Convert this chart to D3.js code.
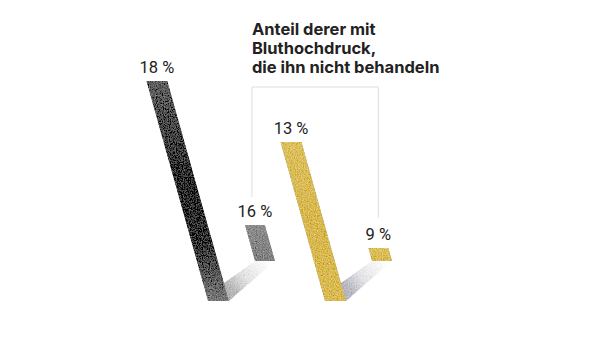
<!DOCTYPE html>
<html><head><meta charset="utf-8">
<script src="https://cdn.jsdelivr.net/npm/d3@7"></script>
<style>html,body{margin:0;padding:0;background:#fff;}svg{display:block;}</style>
</head><body>
<script>
// ---- data ----
const groups = ["ohne", "mit"];
const frontValues = [18, 13];
const backValues = [16, 9];
const titleLines = ["Anteil derer mit", "Bluthochdruck,", "die ihn nicht behandeln"];
const fmt = v => v + " %";

const W = 609, H = 347;
const svg = d3.select("body").append("svg").attr("width", W).attr("height", H);
const defs = svg.append("defs");

// grain filter
const f = defs.append("filter").attr("id", "grain").attr("x", 0).attr("y", 0).attr("width", 1).attr("height", 1);
f.append("feTurbulence").attr("type", "fractalNoise").attr("baseFrequency", 0.85).attr("numOctaves", 2).attr("seed", 3).attr("result", "n");
f.append("feColorMatrix").attr("in", "n").attr("type", "matrix")
  .attr("values", "0.33 0.33 0.33 0 0  0.33 0.33 0.33 0 0  0.33 0.33 0.33 0 0  0 0 0 0 1").attr("result", "g");
f.append("feComposite").attr("in", "SourceGraphic").attr("in2", "g").attr("operator", "arithmetic")
  .attr("k1", 0).attr("k2", 1).attr("k3", 0.8).attr("k4", -0.4).attr("result", "m");
f.append("feComposite").attr("in", "m").attr("in2", "SourceAlpha").attr("operator", "in");

function grad(id, stops, attrs) {
  const g = defs.append("linearGradient").attr("id", id);
  Object.entries(attrs || {x1: 0, y1: 0, x2: 0, y2: 1}).forEach(([k, v]) => g.attr(k, v));
  stops.forEach(([o, c, op]) => g.append("stop").attr("offset", o).attr("stop-color", c).attr("stop-opacity", op == null ? 1 : op));
}
grad("front0", [[0, "#626262"], [0.45, "#2c2c2c"], [0.72, "#323232"], [1, "#7a7a7a"]]);
grad("front1", [[0, "#dcc062"], [0.5, "#d8b856"], [1, "#dabb58"]]);
grad("back0", [[0, "#8e8e8e"], [1, "#808080"]]);
grad("back1", [[0, "#dfc264"], [1, "#d9b957"]]);
const frontFill = ["url(#front0)", "url(#front1)"];
const backFill = ["url(#back0)", "url(#back1)"];
const shadowCol = ["#b0b0b0", "#b2b4c4"];

// ---- scales ----
const x = d3.scalePoint().domain(groups).range([208, 325]);
const yFront = d3.scaleLinear().domain([0, 18]).range([301, 81]);
const yBack = d3.scaleLinear().domain([5, 16]).range([261, 225]);
const k = 0.28;          // slant
const wF = 21, wB = 20, backDx = 47;

const line = d3.line();

groups.forEach((g, i) => {
  const bx = x(g), by = yFront(0), ty = yFront(frontValues[i]), h = by - ty;
  const bx2 = bx + backDx, by2 = yBack(5), ty2 = yBack(backValues[i]), h2 = by2 - ty2;

  // shadow
  const A = [bx + wF - k * 18, by - 18], B = [bx + wF, by], C = [bx2, by2], D = [bx2 + wB, by2];
  const sid = "sh" + i;
  grad(sid, [[0, shadowCol[i], 0.85], [0.5, shadowCol[i], 0.3], [1, shadowCol[i], 0]],
       {gradientUnits: "userSpaceOnUse", x1: B[0] - 6, y1: B[1] - 4, x2: (C[0] + D[0]) / 2 + 4, y2: by2});
  svg.append("path").attr("d", line([A, C, D, B]) + "Z").attr("fill", `url(#${sid})`).attr("filter", "url(#grain)");

  // back bar
  svg.append("path")
    .attr("d", line([[bx2, by2], [bx2 + wB, by2], [bx2 + wB - k * h2, ty2], [bx2 - k * h2, ty2]]) + "Z")
    .attr("fill", backFill[i]).attr("filter", "url(#grain)");

  // front bar
  svg.append("path")
    .attr("d", line([[bx, by], [bx + wF, by], [bx + wF - k * h, ty], [bx - k * h, ty]]) + "Z")
    .attr("fill", frontFill[i]).attr("filter", "url(#grain)");

  // labels
  svg.append("text").attr("x", bx - k * h + wF / 2).attr("y", ty - 8)
    .attr("text-anchor", "middle").attr("font-family", "Roboto, sans-serif").attr("font-size", 16.5)
    .attr("fill", "#222").text(fmt(frontValues[i]));
  svg.append("text").attr("x", bx2 - k * h2 + wB / 2).attr("y", ty2 - 8)
    .attr("text-anchor", "middle").attr("font-family", "Roboto, sans-serif").attr("font-size", 16.5)
    .attr("fill", "#222").text(fmt(backValues[i]));
});

// bracket connecting back-bar labels
const bl = x(groups[0]) + backDx - k * (yBack(5) - yBack(backValues[0])) + wB / 2 - 3;
const br = x(groups[1]) + backDx - k * (yBack(5) - yBack(backValues[1])) + wB / 2;
const bt = 87;
svg.append("path")
  .attr("d", line([[bl, yBack(backValues[0]) - 28], [bl, bt], [br, bt], [br, yBack(backValues[1]) - 30]]))
  .attr("fill", "none").attr("stroke", "#dedede").attr("stroke-width", 1);

// title
const title = svg.append("text").attr("font-family", "Inter, Roboto, sans-serif").attr("font-weight", 700)
  .attr("font-size", 16.5).attr("fill", "#222");
titleLines.forEach((t, j) => title.append("tspan").attr("x", bl).attr("y", 35 + j * 19).text(t));
</script>
</body></html>
